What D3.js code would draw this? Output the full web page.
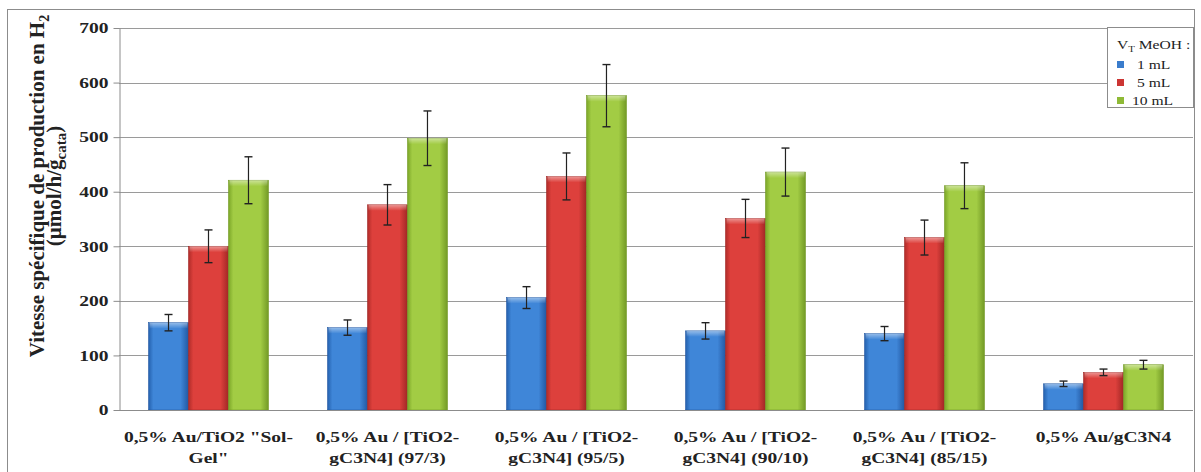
<!DOCTYPE html>
<html><head><meta charset="utf-8">
<script src="https://cdn.jsdelivr.net/npm/d3@7"></script>
<style>
html,body{margin:0;padding:0;background:#fff;}
svg{display:block;}
text{font-family:"Liberation Serif","Times New Roman",serif;}
</style></head>
<body>
<svg id="chart" width="1201" height="472"></svg>
<script>
const categories = [
  ["0,5% Au/TiO2 \"Sol-", "Gel\""],
  ["0,5% Au / [TiO2-", "gC3N4] (97/3)"],
  ["0,5% Au / [TiO2-", "gC3N4] (95/5)"],
  ["0,5% Au / [TiO2-", "gC3N4] (90/10)"],
  ["0,5% Au / [TiO2-", "gC3N4] (85/15)"],
  ["0,5% Au/gC3N4"]
];
const seriesNames = ["1 mL", "5 mL", "10 mL"];
const values1 = [160, 151, 206, 145, 140, 48];
const values5 = [300, 376, 428, 351, 316, 69];
const values10 = [421, 498, 576, 436, 411, 83];
const err1 = [15, 14, 20, 15, 13, 5];
const err5 = [30, 37, 43, 35, 32, 6];
const err10 = [43, 50, 57, 44, 42, 8];
const yTicks = [0, 100, 200, 300, 400, 500, 600, 700];

const seriesValues = [values1, values5, values10];
const seriesErr = [err1, err5, err10];
const colors = [
  {l:"#2461ae", m:"#3f86d8", r:"#2358a2"},
  {l:"#b02c29", m:"#dd403c", r:"#a12725"},
  {l:"#7ba628", m:"#a2cc44", r:"#739a26"}
];
const legendColors = ["#3a7ccc", "#cc3533", "#8fba36"];
const SX = 1.3; // horizontal stretch of the reference's text

const svg = d3.select("#chart");
const defs = svg.append("defs");
colors.forEach((c, i) => {
  const g = defs.append("linearGradient").attr("id", "g" + i).attr("x1", "0").attr("x2", "1").attr("y1", "0").attr("y2", "0");
  g.append("stop").attr("offset", "0%").attr("stop-color", c.l);
  g.append("stop").attr("offset", "12%").attr("stop-color", c.m);
  g.append("stop").attr("offset", "80%").attr("stop-color", c.m);
  g.append("stop").attr("offset", "100%").attr("stop-color", c.r);
});
const tg = defs.append("linearGradient").attr("id", "topg").attr("x1", "0").attr("x2", "0").attr("y1", "0").attr("y2", "1");
tg.append("stop").attr("offset", "0%").attr("stop-color", "#fff").attr("stop-opacity", 0.45);
tg.append("stop").attr("offset", "100%").attr("stop-color", "#fff").attr("stop-opacity", 0);

// outer frame
svg.append("rect").attr("x", 7.5).attr("y", 9.5).attr("width", 1187).attr("height", 470)
  .attr("fill", "none").attr("stroke", "#8c8c8c").attr("stroke-width", 1);

const plot = {left: 119, right: 1193, top: 28, bottom: 410};
const y = d3.scaleLinear().domain([0, 700]).range([plot.bottom, plot.top]);
const x0 = d3.scaleBand().domain(d3.range(categories.length)).range([plot.left, plot.right]).paddingInner(0.33).paddingOuter(0.165);
const x1 = d3.scaleBand().domain(d3.range(3)).range([0, x0.bandwidth()]);

// gridlines
svg.append("g").selectAll("line").data(yTicks.filter(t => t > 0)).join("line")
  .attr("x1", plot.left).attr("x2", plot.right)
  .attr("y1", d => Math.round(y(d)) + 0.5).attr("y2", d => Math.round(y(d)) + 0.5)
  .attr("stroke", "#9a9a9a").attr("stroke-width", 1);

// y axis
const yAxis = svg.append("g").attr("transform", `translate(${plot.left + 0.5},0)`)
  .call(d3.axisLeft(y).tickValues(yTicks).tickSize(6).tickPadding(5).tickSizeOuter(0));
yAxis.select(".domain").attr("stroke", "#8c8c8c");
yAxis.selectAll(".tick line").attr("stroke", "#8c8c8c");
yAxis.selectAll(".tick text").attr("font-family", "Liberation Serif").attr("font-weight", "bold")
  .attr("font-size", 15).attr("fill", "#222")
  .attr("x", -11 / SX).attr("transform", `scale(${SX},1)`);

// bars
const groups = svg.append("g").selectAll("g").data(categories.map((c, i) => i)).join("g")
  .attr("transform", d => `translate(${x0(d)},0)`);
seriesValues.forEach((vals, s) => {
  groups.append("rect")
    .attr("x", x1(s)).attr("width", x1.bandwidth())
    .attr("y", d => y(vals[d])).attr("height", d => y(0) - y(vals[d]))
    .attr("fill", `url(#g${s})`).attr("stroke", colors[s].r).attr("stroke-width", 0.6);
  groups.append("rect")
    .attr("x", x1(s) + 1).attr("width", x1.bandwidth() - 2)
    .attr("y", d => y(vals[d])).attr("height", 6)
    .attr("fill", "url(#topg)");
});

// baseline
svg.append("line").attr("x1", plot.left).attr("x2", plot.right).attr("y1", y(0) + 0.5).attr("y2", y(0) + 0.5)
  .attr("stroke", "#8c8c8c");

// error bars
seriesValues.forEach((vals, s) => {
  const e = seriesErr[s];
  const cx = d => x1(s) + x1.bandwidth() / 2;
  groups.append("line").attr("x1", cx).attr("x2", cx)
    .attr("y1", d => y(vals[d] + e[d])).attr("y2", d => y(vals[d] - e[d]))
    .attr("stroke", "#222").attr("stroke-width", 1.2);
  [1, -1].forEach(sg => {
    groups.append("line").attr("x1", d => cx(d) - 4).attr("x2", d => cx(d) + 4)
      .attr("y1", d => y(vals[d] + sg * e[d])).attr("y2", d => y(vals[d] + sg * e[d]))
      .attr("stroke", "#222").attr("stroke-width", 1.4);
  });
});

// x labels
categories.forEach((lines, i) => {
  const g = svg.append("g").attr("transform", `translate(${x0(i) + x0.bandwidth() / 2},442) scale(${SX},1)`);
  const t = g.append("text").attr("x", 0).attr("y", 0)
    .attr("text-anchor", "middle").attr("font-weight", "bold").attr("font-size", 15).attr("fill", "#222");
  lines.forEach((ln, k) => t.append("tspan").attr("x", 0).attr("dy", k === 0 ? 0 : 21).text(ln));
});

// y title
const yt = svg.append("text").attr("transform", "translate(44,186) rotate(-90)")
  .attr("text-anchor", "middle").attr("font-weight", "bold").attr("font-size", 21).attr("fill", "#222");
yt.append("tspan").text("Vitesse spécifique de production en H");
yt.append("tspan").attr("font-size", 14).attr("dy", 5).text("2");
const yt2 = svg.append("text").attr("transform", "translate(61,186) rotate(-90)")
  .attr("text-anchor", "middle").attr("font-weight", "bold").attr("font-size", 21).attr("fill", "#222");
yt2.append("tspan").text("(µmol/h/g");
yt2.append("tspan").attr("font-size", 15).attr("dy", 5).text("cata");
yt2.append("tspan").attr("dy", -5).text(")");

// legend
const lg = svg.append("g");
lg.append("rect").attr("x", 1107.5).attr("y", 27.5).attr("width", 86).attr("height", 80)
  .attr("fill", "#fff").attr("stroke", "#8c8c8c");
const lt = lg.append("text").attr("x", 1117 / 1.2).attr("y", 49).attr("font-size", 13).attr("fill", "#222")
  .attr("transform", "scale(1.2,1)");
lt.append("tspan").text("V");
lt.append("tspan").attr("font-size", 9).attr("dy", 3).text("T");
lt.append("tspan").attr("dy", -3).text(" MeOH :");
seriesNames.forEach((n, i) => {
  lg.append("rect").attr("x", 1117).attr("y", 61 + i * 18).attr("width", 7).attr("height", 7)
    .attr("fill", legendColors[i]);
  lg.append("text").attr("x", (i === 2 ? 1132 : 1137) / 1.2).attr("y", 69 + i * 18).attr("font-size", 13).attr("fill", "#222")
    .attr("transform", "scale(1.2,1)").text(n);
});
</script>
</body></html>
